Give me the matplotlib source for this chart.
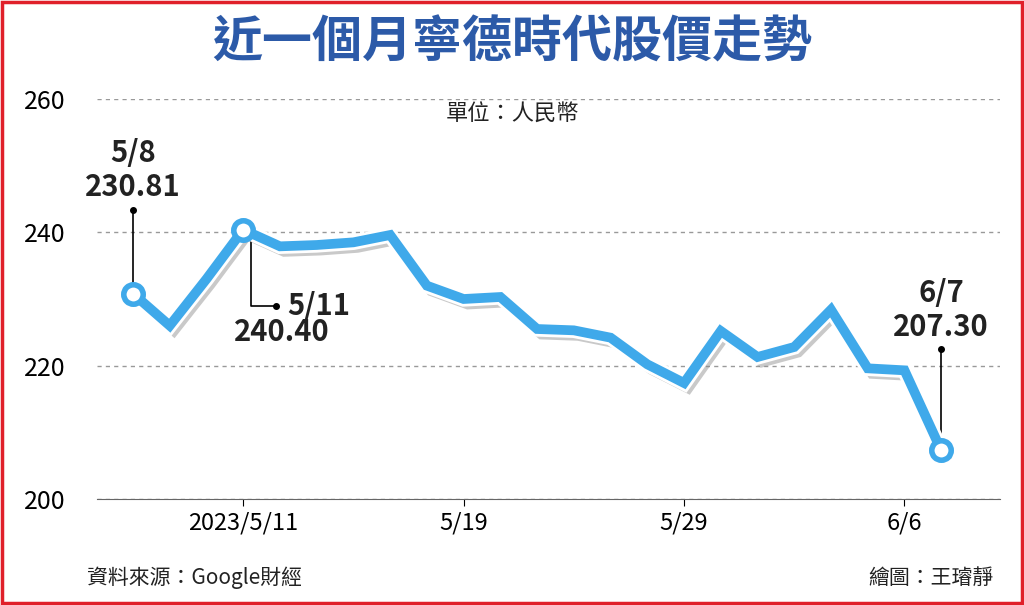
import matplotlib.pyplot as plt
import matplotlib.patheffects as pe
from matplotlib.patches import Rectangle

plt.rcParams['font.family'] = ['Noto Sans CJK TC', 'DejaVu Sans']

dates = ["5/8", "5/9", "5/10", "5/11", "5/12", "5/15", "5/16", "5/17", "5/18", "5/19",
         "5/22", "5/23", "5/24", "5/25", "5/26", "5/29", "5/30", "5/31", "6/1", "6/2",
         "6/5", "6/6", "6/7"]
prices = [230.81, 226.0, 233.0, 240.40, 237.9, 238.1, 238.5, 239.6, 232.0, 230.0,
          230.3, 225.5, 225.3, 224.2, 220.2, 217.4, 225.2, 221.3, 222.8, 228.4,
          219.6, 219.3, 207.30]
tick_idx = [3, 9, 15, 21]
tick_labels = ["2023/5/11", "5/19", "5/29", "6/6"]
yticks = [200, 220, 240, 260]

BLUE = "#3fa9ea"

fig = plt.figure(figsize=(10.24, 6.05), dpi=100)
fig.patches.append(Rectangle((0.002, 0.003), 0.996, 0.994, transform=fig.transFigure,
                             fill=False, edgecolor="#e0202a", linewidth=2.5))
ax = fig.add_axes([97 / 1024, 106 / 605, 903 / 1024, 400 / 605])

x = list(range(len(prices)))
ax.plot(x, prices, color=BLUE, linewidth=7, solid_joinstyle="miter", zorder=3,
        path_effects=[pe.SimpleLineShadow(offset=(3, -4), shadow_color="#888888", alpha=0.45),
                      pe.Stroke(linewidth=11, foreground="white"), pe.Normal()])
for i in (0, 3, len(prices) - 1):
    ax.plot(x[i], prices[i], "o", markersize=14, markerfacecolor="white",
            markeredgecolor=BLUE, markeredgewidth=4, zorder=4)

ax.set_ylim(200, 260)
ax.set_xlim(-0.98, 23.6)
ax.set_yticks(yticks)
ax.set_xticks(tick_idx)
ax.set_xticklabels(tick_labels)
ax.tick_params(axis="y", length=0, labelsize=18, pad=4)
ax.tick_params(axis="x", length=5, labelsize=17, pad=4)
ax.grid(axis="y", linestyle=(0, (3, 3)), color="#999999", linewidth=1)
for s in ("top", "right", "left"):
    ax.spines[s].set_visible(False)
ax.spines["bottom"].set_color("#666666")
for t in ax.get_yticklabels():
    t.set_horizontalalignment("left")
    t.set_x(-0.075)

kw = dict(fontsize=21, fontweight="bold", color="#222222")
# 5/8 label
ax.plot([0, 0], [prices[0] + 1.2, 243.3], color="black", lw=1.2, zorder=2)
ax.plot(0, 243.3, "o", color="black", markersize=4)
ax.text(0, 244.5, f"5/8\n{prices[0]:.2f}", ha="center", va="bottom", linespacing=1.2, **kw)
# 5/11 label
ax.plot([3.2, 3.2, 3.9], [239, 229, 229], color="black", lw=1.2, zorder=2)
ax.plot(3.9, 229, "o", color="black", markersize=4)
ax.text(4.2, 229, "5/11", ha="left", va="center", **kw)
ax.text(2.75, 225, f"{prices[3]:.2f}", ha="left", va="center", **kw)
# 6/7 label
ax.plot([22, 22], [prices[-1] + 1.2, 222.5], color="black", lw=1.2, zorder=2)
ax.plot(22, 222.5, "o", color="black", markersize=4)
ax.text(22, 223.5, f"6/7\n{prices[-1]:.2f}", ha="center", va="bottom", linespacing=1.2, **kw)

fig.text(0.5, 0.905, "近一個月寧德時代股價走勢", ha="center", fontsize=36,
         fontweight="bold", color="#2c5aa8")
fig.text(0.5, 0.80, "單位：人民幣", ha="center", fontsize=16, color="#222222")
fig.text(0.085, 0.035, "資料來源：Google財經", ha="left", fontsize=15, color="#222222")
fig.text(0.97, 0.035, "繪圖：王璿靜", ha="right", fontsize=15, color="#222222")

fig.savefig("out.png", dpi=100)
